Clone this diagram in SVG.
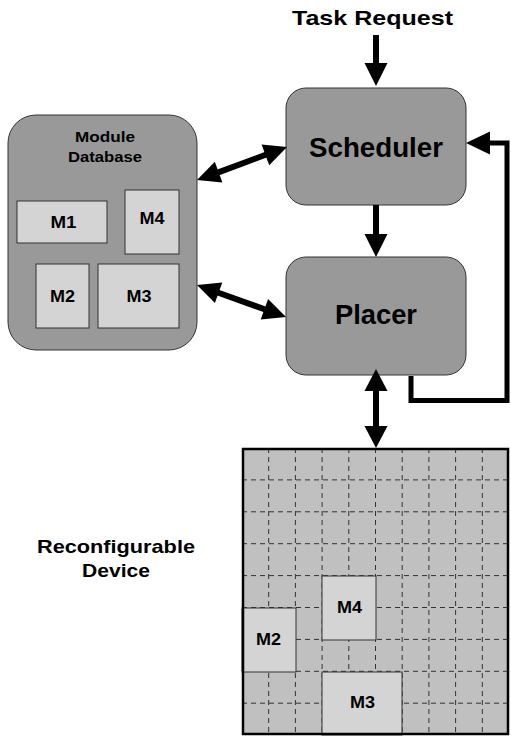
<svg xmlns="http://www.w3.org/2000/svg" width="511" height="736" viewBox="0 0 511 736">
<style>
text{font-family:"Liberation Sans",Arial,sans-serif;font-weight:bold;fill:#000;text-anchor:middle}
.big{fill:#999;stroke:#333;stroke-width:1}
.mod{fill:#d4d4d4;stroke:#333;stroke-width:1}
.grid{stroke:#333;stroke-width:1;stroke-dasharray:5,4;fill:none}
.ln{stroke:#000;stroke-width:6;fill:none}
.fb{stroke:#000;stroke-width:5;fill:none;stroke-linejoin:miter}
.hd{fill:#000}
</style>
<text x="372.5" y="25" font-size="21" textLength="161" lengthAdjust="spacingAndGlyphs">Task Request</text>

<g id="scheduler">
<rect class="big" x="286" y="88" width="180" height="117" rx="20"/>
<text x="376" y="157" font-size="28" textLength="134" lengthAdjust="spacingAndGlyphs">Scheduler</text>
</g>
<g id="placer">
<rect class="big" x="286" y="257" width="180" height="118" rx="20"/>
<text x="376" y="324" font-size="28" textLength="82" lengthAdjust="spacingAndGlyphs">Placer</text>
</g>
<g id="module-database">
<rect class="big" x="8" y="115" width="189" height="235" rx="28"/>
<text x="105" y="142" font-size="15" textLength="60" lengthAdjust="spacingAndGlyphs">Module</text>
<text x="105" y="162" font-size="15" textLength="74" lengthAdjust="spacingAndGlyphs">Database</text>
<rect class="mod" x="17" y="201" width="90" height="42"/>
<text x="63.5" y="228" font-size="16" textLength="26" lengthAdjust="spacingAndGlyphs">M1</text>
<rect class="mod" x="125" y="190" width="54" height="64"/>
<text x="152" y="224" font-size="16" textLength="25" lengthAdjust="spacingAndGlyphs">M4</text>
<rect class="mod" x="36" y="264" width="53" height="64"/>
<text x="62.5" y="302" font-size="16" textLength="25" lengthAdjust="spacingAndGlyphs">M2</text>
<rect class="mod" x="98" y="264" width="81" height="64"/>
<text x="139" y="302" font-size="16" textLength="25" lengthAdjust="spacingAndGlyphs">M3</text>
</g>
<g id="device">
<rect x="242" y="448" width="267" height="287" fill="#c0c0c0"/>
<path class="grid" d="M268.7 448V735M295.4 448V735M322.1 448V735M348.8 448V735M375.5 448V735M402.2 448V735M428.9 448V735M455.6 448V735M482.3 448V735M242 479.9H509M242 511.8H509M242 543.7H509M242 575.6H509M242 607.5H509M242 639.4H509M242 671.3H509M242 703.2H509"/>
<rect class="mod" x="322" y="576" width="54" height="64"/>
<text x="349.5" y="613" font-size="16" textLength="25" lengthAdjust="spacingAndGlyphs">M4</text>
<rect class="mod" x="242" y="608" width="54" height="64"/>
<text x="268.5" y="645" font-size="16" textLength="25" lengthAdjust="spacingAndGlyphs">M2</text>
<rect class="mod" x="322" y="672" width="80" height="63"/>
<text x="362.5" y="708" font-size="16" textLength="25" lengthAdjust="spacingAndGlyphs">M3</text>
<rect x="243" y="449" width="265" height="285" fill="none" stroke="#000" stroke-width="2.5"/>
<text x="116" y="553" font-size="19" textLength="158" lengthAdjust="spacingAndGlyphs">Reconfigurable</text>
<text x="116" y="577" font-size="19" textLength="68" lengthAdjust="spacingAndGlyphs">Device</text>
</g>
<g id="connectors">
<line class="ln" x1="376" y1="35" x2="376" y2="64"/>
<polygon class="hd" points="364.5,63 387.5,63 376,86"/>
<line class="ln" x1="376" y1="205" x2="376" y2="235"/>
<polygon class="hd" points="364.5,234 387.5,234 376,257"/>
<polygon class="hd" points="364.5,391 387.5,391 376,369"/>
<line class="ln" x1="376" y1="390" x2="376" y2="427"/>
<polygon class="hd" points="364.5,426 387.5,426 376,448"/>
<polyline class="fb" points="411,376 411,400.5 507,400.5 507,143 489,143"/>
<polygon class="hd" points="490,131.5 490,154.5 466,143"/>
<line class="ln" x1="217" y1="172.9" x2="267" y2="154.3"/>
<polygon class="hd" points="197,180 222.4,182.4 214.8,161.8"/>
<polygon class="hd" points="287,147 269.2,165.2 261.6,144.6"/>
<line class="ln" x1="217" y1="292.2" x2="266" y2="309.8"/>
<polygon class="hd" points="197,285 214.9,303.1 222.3,282.5"/>
<polygon class="hd" points="286,317 260.7,319.5 268.1,298.9"/>
</g>
</svg>
